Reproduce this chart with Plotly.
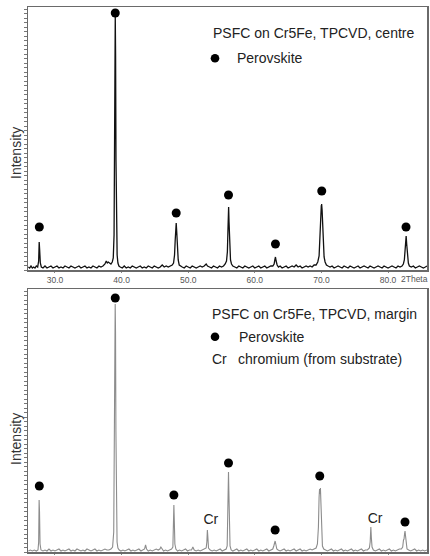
import plotly.graph_objects as go

# ---------------- data ----------------
# top panel: PSFC on Cr5Fe, TPCVD, centre
two_theta_centre = [
    26.0, 26.2, 26.4, 26.6, 26.8, 27.0, 27.2, 27.4, 27.55, 27.63, 27.7, 27.8, 27.95,
    28.2, 28.5, 28.8, 29.1, 29.4, 29.7, 30.0, 30.3, 30.6, 30.9, 31.2, 31.5, 31.8,
    32.1, 32.4, 32.7, 33.0, 33.3, 33.6, 33.9, 34.2, 34.5, 34.8, 35.1, 35.4, 35.7,
    36.0, 36.3, 36.6, 36.9, 37.2, 37.5, 37.7, 37.85, 38.0, 38.2, 38.4, 38.6, 38.75,
    38.87, 38.95, 39.0, 39.05, 39.1, 39.16, 39.24, 39.33, 39.45, 39.6, 39.8, 40.1,
    40.4, 40.7, 41.0, 41.3, 41.6, 41.9, 42.2, 42.5, 42.8, 43.1, 43.4, 43.7, 44.0,
    44.3, 44.6, 44.9, 45.2, 45.5, 45.8, 46.1, 46.4, 46.7, 47.0, 47.3, 47.6, 47.8,
    47.95, 48.05, 48.13, 48.2, 48.28, 48.38, 48.5, 48.65, 48.8, 49.1, 49.4, 49.7,
    50.0, 50.3, 50.6, 50.9, 51.2, 51.5, 51.8, 52.1, 52.4, 52.7, 52.9, 53.2, 53.5,
    53.8, 54.1, 54.4, 54.7, 55.0, 55.3, 55.55, 55.75, 55.88, 55.96, 56.02, 56.07,
    56.13, 56.22, 56.35, 56.5, 56.7, 57.0, 57.3, 57.6, 57.9, 58.2, 58.5, 58.8, 59.1,
    59.4, 59.7, 60.0, 60.3, 60.6, 60.9, 61.2, 61.5, 61.8, 62.1, 62.4, 62.7, 62.9,
    63.0, 63.1, 63.2, 63.35, 63.55, 63.8, 64.1, 64.4, 64.7, 65.0, 65.3, 65.6, 65.9,
    66.2, 66.5, 66.8, 67.1, 67.4, 67.7, 68.0, 68.3, 68.6, 68.9, 69.2, 69.45, 69.65,
    69.8, 69.9, 69.98, 70.03, 70.1, 70.18, 70.28, 70.4, 70.55, 70.75, 71.0, 71.3,
    71.6, 71.9, 72.2, 72.5, 72.8, 73.1, 73.4, 73.7, 74.0, 74.3, 74.6, 74.9, 75.2,
    75.5, 75.8, 76.1, 76.4, 76.7, 77.0, 77.3, 77.6, 77.9, 78.2, 78.5, 78.8, 79.1,
    79.4, 79.7, 80.0, 80.3, 80.6, 80.9, 81.2, 81.5, 81.8, 82.1, 82.3, 82.45, 82.57,
    82.65, 82.72, 82.8, 82.9, 83.05, 83.2, 83.5, 83.8, 84.1, 84.4, 84.7, 85.0, 85.3,
    85.6, 85.85,
]
intensity_centre = [
    3, 2, 4, 2, 3, 2, 4, 3, 9, 28, 20, 7, 3,
    2, 4, 2, 3, 4, 2, 3, 4, 2, 3, 2, 4, 3,
    2, 4, 3, 2, 3, 4, 2, 3, 4, 2, 3, 2, 4,
    3, 2, 4, 3, 4, 6, 9, 7, 8, 7, 6, 8, 12,
    35, 120, 210, 255, 215, 110, 40, 15, 7, 4, 3, 2,
    4, 2, 3, 2, 4, 3, 2, 3, 4, 2, 3, 2, 4,
    3, 2, 4, 3, 2, 3, 5, 3, 4, 3, 4, 5, 7,
    15, 30, 44, 47, 38, 20, 10, 5, 4, 3, 2, 4,
    3, 2, 4, 3, 2, 3, 4, 3, 4, 6, 4, 3, 2,
    4, 3, 2, 4, 3, 4, 6, 9, 18, 38, 60, 63,
    48, 24, 10, 6, 4, 3, 2, 4, 3, 2, 4, 3, 2,
    3, 4, 2, 3, 4, 2, 3, 4, 2, 3, 4, 4, 6,
    10, 13, 9, 5, 3, 4, 2, 3, 4, 2, 3, 4, 3,
    5, 3, 4, 2, 3, 4, 3, 4, 3, 5, 5, 8, 14,
    30, 52, 64, 66, 60, 42, 24, 13, 8, 5, 4, 3,
    4, 2, 3, 4, 3, 2, 4, 3, 2, 4, 3, 2, 3,
    4, 2, 3, 4, 3, 2, 4, 3, 2, 3, 4, 3, 2,
    4, 3, 2, 3, 4, 3, 2, 4, 3, 4, 6, 10, 22,
    32, 34, 26, 13, 7, 4, 3, 4, 2, 3, 4, 3, 2,
    3, 4,
]
perovskite_centre_x = [27.65, 39.05, 48.2, 56.05, 63.1, 70.05, 82.7]
perovskite_centre_y = [43, 257, 57, 75, 26, 79, 43]

# bottom panel: PSFC on Cr5Fe, TPCVD, margin
two_theta_margin = [
    26.0, 26.3, 26.6, 26.9, 27.2, 27.45, 27.55, 27.62, 27.68, 27.76, 27.9, 28.2,
    28.5, 28.8, 29.1, 29.4, 29.7, 30.0, 30.3, 30.6, 30.9, 31.2, 31.5, 31.8, 32.1,
    32.4, 32.7, 33.0, 33.3, 33.6, 33.9, 34.2, 34.5, 34.8, 35.1, 35.4, 35.7, 36.0,
    36.3, 36.6, 36.9, 37.2, 37.5, 37.8, 38.1, 38.4, 38.65, 38.82, 38.92, 38.99,
    39.04, 39.09, 39.15, 39.22, 39.32, 39.45, 39.65, 39.9, 40.2, 40.5, 40.8, 41.1,
    41.4, 41.7, 42.0, 42.3, 42.6, 42.9, 43.2, 43.45, 43.6, 43.75, 44.0, 44.3, 44.6,
    44.9, 45.2, 45.5, 45.75, 45.9, 46.05, 46.3, 46.6, 46.9, 47.2, 47.5, 47.7, 47.78,
    47.85, 47.92, 48.0, 48.15, 48.4, 48.7, 49.0, 49.3, 49.6, 49.9, 50.2, 50.5, 50.7,
    50.9, 51.2, 51.5, 51.8, 52.1, 52.4, 52.7, 52.8, 52.88, 52.95, 53.05, 53.3, 53.6,
    53.9, 54.2, 54.5, 54.8, 55.1, 55.4, 55.7, 55.85, 55.95, 56.0, 56.05, 56.1, 56.17,
    56.28, 56.45, 56.7, 57.0, 57.3, 57.6, 57.9, 58.2, 58.5, 58.8, 59.1, 59.4, 59.7,
    60.0, 60.3, 60.6, 60.9, 61.2, 61.5, 61.8, 62.1, 62.4, 62.7, 62.85, 62.97, 63.05,
    63.15, 63.3, 63.5, 63.8, 64.1, 64.4, 64.7, 65.0, 65.3, 65.6, 65.9, 66.2, 66.5,
    66.8, 67.1, 67.4, 67.7, 68.0, 68.3, 68.6, 68.9, 69.2, 69.4, 69.55, 69.65, 69.72,
    69.78, 69.85, 69.92, 70.02, 70.15, 70.35, 70.6, 70.9, 71.2, 71.5, 71.8, 72.1,
    72.4, 72.7, 73.0, 73.3, 73.6, 73.9, 74.2, 74.5, 74.8, 75.1, 75.4, 75.7, 76.0,
    76.3, 76.6, 76.9, 77.2, 77.32, 77.42, 77.5, 77.6, 77.8, 78.1, 78.4, 78.7, 79.0,
    79.3, 79.6, 79.9, 80.2, 80.5, 80.8, 81.1, 81.4, 81.7, 82.0, 82.2, 82.32, 82.4,
    82.48, 82.55, 82.63, 82.72, 82.85, 83.1, 83.4, 83.7, 84.0, 84.3, 84.6, 84.9,
    85.2, 85.5, 85.85,
]
intensity_margin = [
    1, 2, 1, 2, 1, 2, 10, 52, 40, 8, 2, 1,
    2, 1, 3, 1, 2, 1, 2, 3, 1, 2, 1, 2, 3,
    1, 2, 1, 3, 2, 1, 2, 1, 3, 2, 1, 2, 3,
    1, 2, 1, 2, 3, 2, 2, 3, 5, 20, 110, 215,
    248, 220, 120, 40, 10, 4, 2, 1, 2, 1, 2, 3,
    1, 2, 1, 2, 3, 1, 2, 3, 7, 3, 1, 2, 1,
    2, 3, 2, 3, 5, 3, 1, 2, 1, 2, 3, 5, 20,
    47, 30, 8, 3, 1, 2, 1, 2, 3, 1, 2, 2, 5,
    2, 1, 2, 1, 2, 3, 4, 10, 22, 15, 4, 2, 1,
    2, 1, 2, 3, 1, 2, 3, 6, 30, 65, 80, 62, 25,
    6, 2, 1, 2, 3, 1, 2, 1, 2, 3, 1, 2, 1,
    2, 3, 1, 2, 1, 2, 3, 1, 2, 3, 6, 10, 11,
    8, 3, 2, 1, 2, 3, 1, 2, 1, 2, 3, 1, 2,
    3, 1, 2, 1, 2, 3, 2, 3, 4, 8, 25, 55, 63,
    58, 64, 45, 18, 6, 3, 2, 1, 2, 3, 1, 2,
    1, 2, 3, 1, 2, 1, 2, 3, 1, 2, 1, 2, 3,
    1, 2, 2, 4, 10, 25, 14, 5, 2, 1, 2, 3, 1,
    2, 1, 2, 3, 1, 2, 1, 2, 3, 3, 5, 12, 13,
    18, 21, 16, 7, 3, 2, 1, 2, 3, 1, 2, 1,
    2, 1, 2,
]
perovskite_margin_x = [27.65, 39.05, 47.85, 56.05, 63.05, 69.75, 82.55]
perovskite_margin_y = [66, 254, 57, 89, 22, 76, 30]
chromium_x = [53.4, 78.05]
chromium_y = [32, 33]
chromium_text = ["Cr", "Cr"]

tick_vals = [30, 40, 50, 60, 70, 80]
tick_text = ["30.0", "40.0", "50.0", "60.0", "70.0", "80.0"]
x_range = [25.95, 85.85]
y_range = [0, 263]

# ---------------- figure ----------------
FONT = "Liberation Sans, Arial, sans-serif"
fig = go.Figure()

fig.add_trace(go.Scatter(x=two_theta_centre, y=intensity_centre, mode="lines",
                         line=dict(color="#111111", width=1.3), xaxis="x", yaxis="y",
                         hoverinfo="skip"))
fig.add_trace(go.Scatter(x=perovskite_centre_x, y=perovskite_centre_y, mode="markers",
                         marker=dict(color="#000000", size=9), xaxis="x", yaxis="y"))

fig.add_trace(go.Scatter(x=two_theta_margin, y=intensity_margin, mode="lines",
                         line=dict(color="#8c8c8c", width=1.1), xaxis="x2", yaxis="y2",
                         hoverinfo="skip"))
fig.add_trace(go.Scatter(x=perovskite_margin_x, y=perovskite_margin_y, mode="markers",
                         marker=dict(color="#000000", size=9), xaxis="x2", yaxis="y2"))
fig.add_trace(go.Scatter(x=chromium_x, y=chromium_y, mode="text", text=chromium_text,
                         textfont=dict(family=FONT, size=14, color="#222222"),
                         xaxis="x2", yaxis="y2"))

W, H = 430, 556
ML, MR, MT, MB = 28, 3, 7, 4
PW, PH = W - ML - MR, H - MT - MB


def px(x):
    return (x - ML) / PW


def py(y):
    return (H - MB - y) / PH


xcommon = dict(range=x_range, tickvals=tick_vals, ticktext=tick_text,
               showgrid=False, zeroline=False, showline=True, mirror=True,
               linecolor="#6a6a6a", linewidth=1.5, ticks="outside", ticklen=1,
               tickcolor="#888888", automargin=False,
               tickfont=dict(family=FONT, size=8.5, color="#555555"))
ycommon = dict(range=y_range, showticklabels=False, showgrid=False, zeroline=False,
               showline=True, mirror=True, linecolor="#6a6a6a", linewidth=1.5,
               ticks="outside", ticklen=3, tickcolor="#777777", tick0=0, dtick=4.5,
               automargin=False)

fig.update_layout(
    width=W, height=H,
    margin=dict(l=ML, r=MR, t=MT, b=MB, autoexpand=False),
    paper_bgcolor="white", plot_bgcolor="white",
    showlegend=False,
    xaxis=dict(domain=[0, 1], anchor="y", **xcommon),
    yaxis=dict(domain=[py(270), 1], anchor="x", **ycommon),
    xaxis2=dict(domain=[0, 1], anchor="y2", **xcommon),
    yaxis2=dict(domain=[0, py(289)], anchor="x2", **ycommon),
)

ann = []


def text(x, y, s, size=14, color="#222222", xanchor="left", angle=0):
    ann.append(dict(x=px(x), y=py(y), xref="paper", yref="paper", text=s,
                    showarrow=False, xanchor=xanchor, yanchor="middle",
                    textangle=angle,
                    font=dict(family=FONT, size=size, color=color)))


text(210.7, 33.3, "PSFC on Cr5Fe, TPCVD, centre")
text(235, 58.3, "Perovskite")
text(210, 314.3, "PSFC on Cr5Fe, TPCVD, margin")
text(236.7, 336.7, "Perovskite")
text(210, 359.3, "Cr")
text(236, 359.3, "chromium (from substrate)")
text(16, 153, "Intensity", color="#333333", xanchor="center", angle=-90)
text(16, 439, "Intensity", color="#333333", xanchor="center", angle=-90)
text(399, 279, "2Theta", size=8.5, color="#555555")
fig.update_layout(annotations=ann)

shapes = []
for (cx, cy) in [(215, 58.3), (215, 336.7)]:
    r = 4.3
    shapes.append(dict(type="circle", xref="paper", yref="paper",
                       x0=px(cx - r), x1=px(cx + r), y0=py(cy + r), y1=py(cy - r),
                       fillcolor="#000000", line=dict(width=0)))
fig.update_layout(shapes=shapes)

fig.write_html(
    "out.html",
    config={"displayModeBar": False, "staticPlot": True},
    post_script="document.body.style.margin='0';document.body.style.overflow='hidden';",
)
